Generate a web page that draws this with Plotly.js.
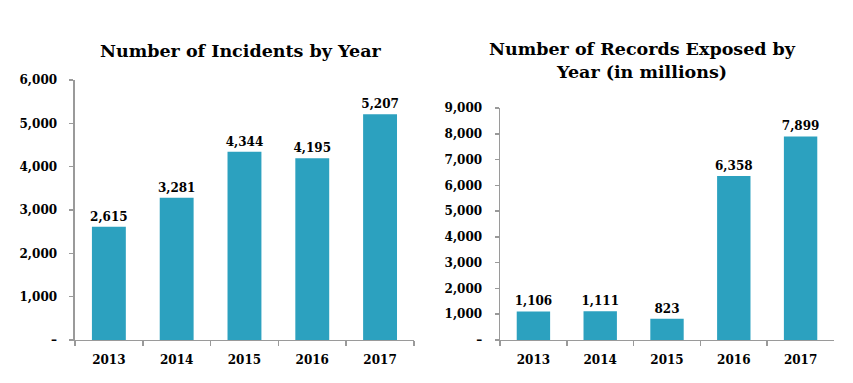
<!DOCTYPE html>
<html>
<head>
<meta charset="utf-8">
<script src="https://cdn.plot.ly/plotly-3.0.1.min.js"></script>
<style>html,body{margin:0;padding:0;background:#fff;}#chart{width:853px;height:383px;}</style>
</head>
<body>
<div id="chart"></div>
<script>
const years = ['2013', '2014', '2015', '2016', '2017'];
const incidents = [2615, 3281, 4344, 4195, 5207];
const records = [1106, 1111, 823, 6358, 7899];
const leftTickVals = [0, 1000, 2000, 3000, 4000, 5000, 6000];
const leftTickText = ['–', '1,000', '2,000', '3,000', '4,000', '5,000', '6,000'];
const rightTickVals = [0, 1000, 2000, 3000, 4000, 5000, 6000, 7000, 8000, 9000];
const rightTickText = ['–', '1,000', '2,000', '3,000', '4,000', '5,000', '6,000', '7,000', '8,000', '9,000'];
const titleLeft = 'Number of Incidents by Year';
const titleRight = 'Number of Records Exposed by<br>Year (in millions)';

const FONT = '"DejaVu Serif", "Liberation Serif", serif';
const BAR = '#2CA1BF';
const AXIS = '#9a9a9a';

const barTrace = (y, xa, ya) => ({
  type: 'bar', x: years, y: y, xaxis: xa, yaxis: ya,
  marker: {color: BAR},
  texttemplate: '%{y:,.0f}', textposition: 'outside', cliponaxis: false,
  constraintext: 'none',
  textfont: {family: FONT, size: 12, color: '#000', weight: 'bold'},
  hoverinfo: 'none'
});

const xaxisBase = (domain) => ({
  domain: domain, type: 'category', showgrid: false, zeroline: false,
  showline: true, linecolor: AXIS, linewidth: 1.5,
  ticks: 'outside', tickson: 'boundaries', ticklen: 5, tickcolor: AXIS, tickwidth: 1.5,
  ticklabelstandoff: 8,
  tickfont: {family: FONT, size: 12, color: '#000', weight: 'bold'},
  fixedrange: true
});
const yaxisBase = (domain, range, vals, text, anchor) => ({
  domain: domain, range: range, anchor: anchor, showgrid: false, zeroline: false,
  showline: true, linecolor: AXIS, linewidth: 1.5,
  ticks: 'outside', ticklen: 4, tickcolor: AXIS, tickwidth: 1.5,
  tickvals: vals, ticktext: text, ticklabelstandoff: 10,
  tickfont: {family: FONT, size: 12, color: '#000', weight: 'bold'},
  fixedrange: true
});

const data = [barTrace(incidents, 'x', 'y'), barTrace(records, 'x2', 'y2')];

const layout = {
  width: 853, height: 383,
  margin: {l: 0, r: 0, t: 0, b: 0},
  paper_bgcolor: '#fff', plot_bgcolor: '#fff',
  showlegend: false, bargap: 0.5,
  xaxis: Object.assign(xaxisBase([0.0879, 0.4853]), {anchor: 'y'}),
  yaxis: yaxisBase([0.1123, 0.7911], [0, 6000], leftTickVals, leftTickText, 'x'),
  xaxis2: Object.assign(xaxisBase([0.5862, 0.9777]), {anchor: 'y2'}),
  yaxis2: yaxisBase([0.1123, 0.718], [0, 9000], rightTickVals, rightTickText, 'x2'),
  annotations: [
    {text: titleLeft, xref: 'paper', yref: 'paper', x: 0.2825, y: 0.8668,
     xanchor: 'center', yanchor: 'middle', showarrow: false,
     font: {family: FONT, size: 17.5, color: '#000', weight: 'bold'}},
    {text: titleRight, xref: 'paper', yref: 'paper', x: 0.7538, y: 0.843,
     xanchor: 'center', yanchor: 'middle', showarrow: false,
     font: {family: FONT, size: 17.5, color: '#000', weight: 'bold'}}
  ]
};

Plotly.newPlot('chart', data, layout, {staticPlot: true, displayModeBar: false});
</script>
</body>
</html>
